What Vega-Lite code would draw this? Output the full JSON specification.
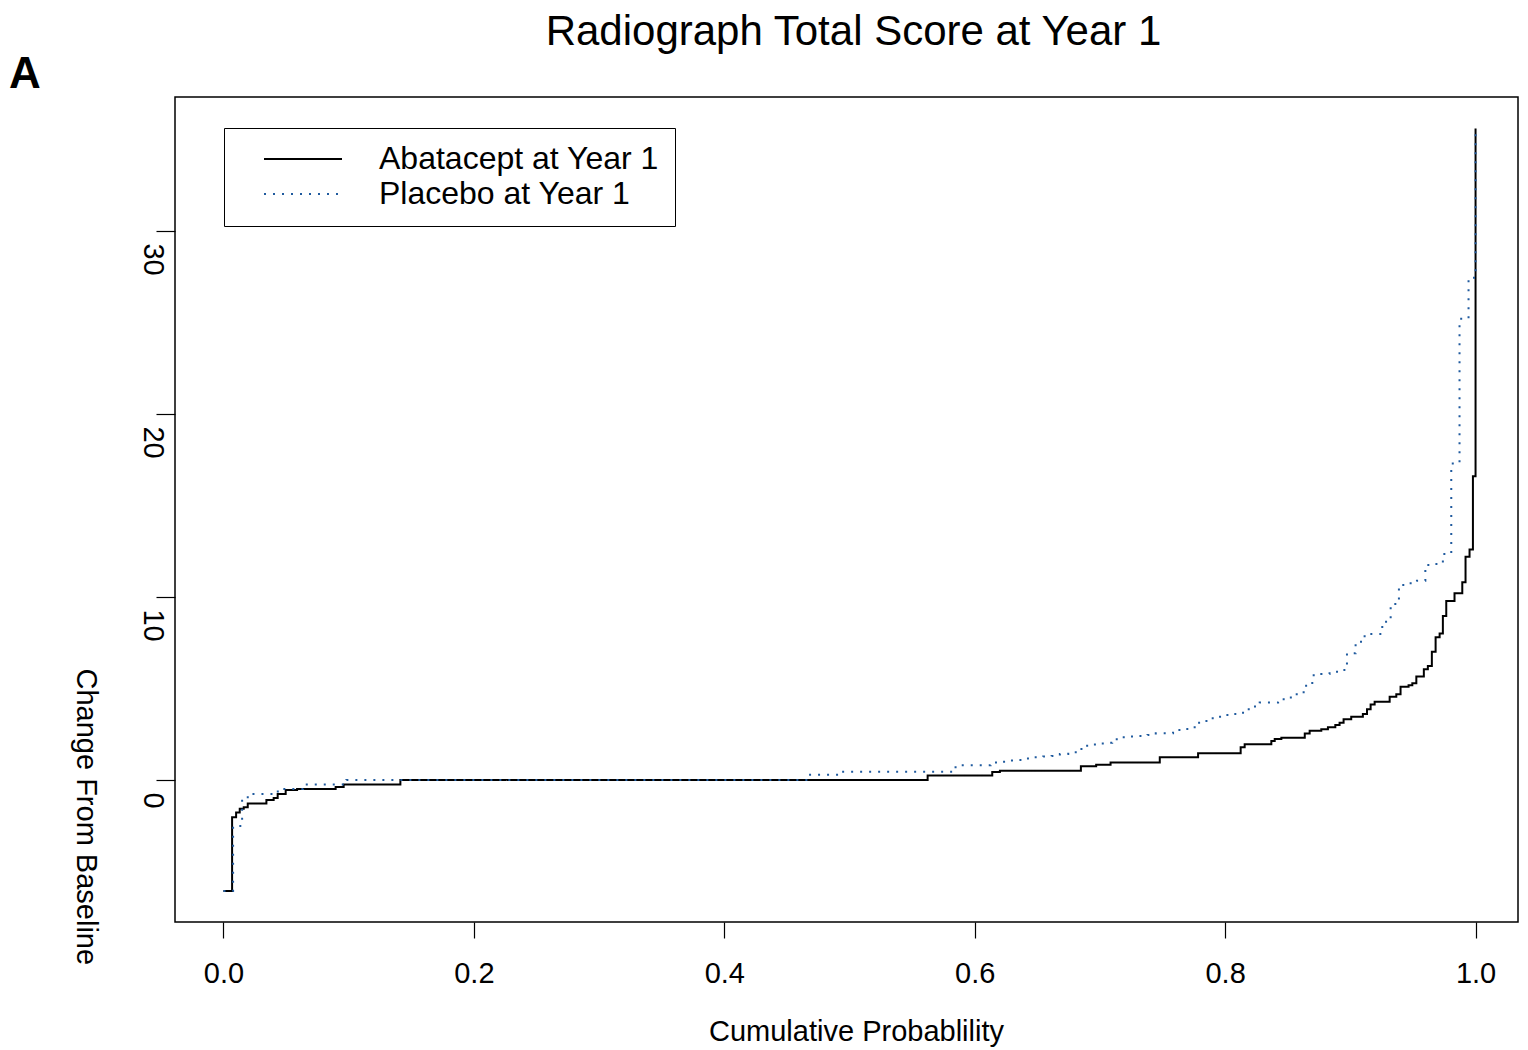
{
  "$schema": "https://vega.github.io/schema/vega-lite/v6.json",
  "width": 1343,
  "height": 825,
  "autosize": {"type": "none"},
  "padding": {"left": 175, "top": 97, "right": 10, "bottom": 128},
  "background": "white",
  "title": {"text": "Radiograph Total Score at Year 1", "fontSize": 42, "font": "Liberation Sans", "fontWeight": "normal", "anchor": "middle", "frame": "group", "baseline": "alphabetic", "offset": -34, "dx": 7, "color": "black"},
  "config": {
    "view": {"stroke": "black", "strokeWidth": 1.5},
    "axis": {"grid": false, "domain": false, "tickColor": "black", "tickWidth": 1.2, "labelColor": "black", "titleColor": "black", "labelFont": "Liberation Sans", "titleFont": "Liberation Sans", "labelFontSize": 29, "titleFontSize": 29, "titleFontWeight": "normal", "labelOverlap": false, "labelBound": false, "labelFlush": false}
  },
  "layer": [
    {
      "data": {"values": [
        {"group": "Abatacept at Year 1", "p": 0.0, "change": -6.07},
        {"group": "Abatacept at Year 1", "p": 0.0069, "change": -2.04},
        {"group": "Abatacept at Year 1", "p": 0.0101, "change": -1.78},
        {"group": "Abatacept at Year 1", "p": 0.013, "change": -1.57},
        {"group": "Abatacept at Year 1", "p": 0.0162, "change": -1.49},
        {"group": "Abatacept at Year 1", "p": 0.0194, "change": -1.28},
        {"group": "Abatacept at Year 1", "p": 0.0343, "change": -1.09},
        {"group": "Abatacept at Year 1", "p": 0.0401, "change": -0.98},
        {"group": "Abatacept at Year 1", "p": 0.0433, "change": -0.77},
        {"group": "Abatacept at Year 1", "p": 0.0497, "change": -0.55},
        {"group": "Abatacept at Year 1", "p": 0.0588, "change": -0.49},
        {"group": "Abatacept at Year 1", "p": 0.0896, "change": -0.38},
        {"group": "Abatacept at Year 1", "p": 0.096, "change": -0.24},
        {"group": "Abatacept at Year 1", "p": 0.1413, "change": 0},
        {"group": "Abatacept at Year 1", "p": 0.5624, "change": 0.24},
        {"group": "Abatacept at Year 1", "p": 0.614, "change": 0.44},
        {"group": "Abatacept at Year 1", "p": 0.6201, "change": 0.51},
        {"group": "Abatacept at Year 1", "p": 0.6848, "change": 0.75},
        {"group": "Abatacept at Year 1", "p": 0.697, "change": 0.83},
        {"group": "Abatacept at Year 1", "p": 0.7085, "change": 0.95},
        {"group": "Abatacept at Year 1", "p": 0.7478, "change": 1.24},
        {"group": "Abatacept at Year 1", "p": 0.7784, "change": 1.46},
        {"group": "Abatacept at Year 1", "p": 0.8124, "change": 1.79},
        {"group": "Abatacept at Year 1", "p": 0.8156, "change": 1.95},
        {"group": "Abatacept at Year 1", "p": 0.8369, "change": 2.13},
        {"group": "Abatacept at Year 1", "p": 0.8396, "change": 2.24},
        {"group": "Abatacept at Year 1", "p": 0.8449, "change": 2.31},
        {"group": "Abatacept at Year 1", "p": 0.8636, "change": 2.54},
        {"group": "Abatacept at Year 1", "p": 0.8675, "change": 2.69},
        {"group": "Abatacept at Year 1", "p": 0.8768, "change": 2.77},
        {"group": "Abatacept at Year 1", "p": 0.8821, "change": 2.88},
        {"group": "Abatacept at Year 1", "p": 0.888, "change": 3.0},
        {"group": "Abatacept at Year 1", "p": 0.8914, "change": 3.13},
        {"group": "Abatacept at Year 1", "p": 0.8946, "change": 3.32},
        {"group": "Abatacept at Year 1", "p": 0.9007, "change": 3.46},
        {"group": "Abatacept at Year 1", "p": 0.91, "change": 3.61},
        {"group": "Abatacept at Year 1", "p": 0.9133, "change": 3.86},
        {"group": "Abatacept at Year 1", "p": 0.9162, "change": 4.12},
        {"group": "Abatacept at Year 1", "p": 0.9194, "change": 4.28},
        {"group": "Abatacept at Year 1", "p": 0.9314, "change": 4.55},
        {"group": "Abatacept at Year 1", "p": 0.9367, "change": 4.68},
        {"group": "Abatacept at Year 1", "p": 0.9401, "change": 5.1},
        {"group": "Abatacept at Year 1", "p": 0.9465, "change": 5.17},
        {"group": "Abatacept at Year 1", "p": 0.9495, "change": 5.28},
        {"group": "Abatacept at Year 1", "p": 0.9527, "change": 5.65},
        {"group": "Abatacept at Year 1", "p": 0.9587, "change": 6.05},
        {"group": "Abatacept at Year 1", "p": 0.9619, "change": 6.23},
        {"group": "Abatacept at Year 1", "p": 0.9651, "change": 7.01},
        {"group": "Abatacept at Year 1", "p": 0.9681, "change": 7.8},
        {"group": "Abatacept at Year 1", "p": 0.9713, "change": 8.01},
        {"group": "Abatacept at Year 1", "p": 0.9739, "change": 8.96},
        {"group": "Abatacept at Year 1", "p": 0.9766, "change": 9.78},
        {"group": "Abatacept at Year 1", "p": 0.9832, "change": 10.2},
        {"group": "Abatacept at Year 1", "p": 0.9894, "change": 10.8},
        {"group": "Abatacept at Year 1", "p": 0.992, "change": 12.2},
        {"group": "Abatacept at Year 1", "p": 0.9952, "change": 12.6},
        {"group": "Abatacept at Year 1", "p": 0.9979, "change": 16.6},
        {"group": "Abatacept at Year 1", "p": 1.0, "change": 35.6},
        {"group": "Placebo at Year 1", "p": 0.0, "change": -6.07},
        {"group": "Placebo at Year 1", "p": 0.0077, "change": -2.51},
        {"group": "Placebo at Year 1", "p": 0.0149, "change": -0.95},
        {"group": "Placebo at Year 1", "p": 0.0221, "change": -0.77},
        {"group": "Placebo at Year 1", "p": 0.0434, "change": -0.49},
        {"group": "Placebo at Year 1", "p": 0.0636, "change": -0.24},
        {"group": "Placebo at Year 1", "p": 0.0982, "change": 0},
        {"group": "Placebo at Year 1", "p": 0.4671, "change": 0.29},
        {"group": "Placebo at Year 1", "p": 0.4938, "change": 0.45},
        {"group": "Placebo at Year 1", "p": 0.5847, "change": 0.8},
        {"group": "Placebo at Year 1", "p": 0.6127, "change": 0.95},
        {"group": "Placebo at Year 1", "p": 0.6201, "change": 1.0},
        {"group": "Placebo at Year 1", "p": 0.6268, "change": 1.06},
        {"group": "Placebo at Year 1", "p": 0.6339, "change": 1.09},
        {"group": "Placebo at Year 1", "p": 0.6406, "change": 1.17},
        {"group": "Placebo at Year 1", "p": 0.6475, "change": 1.24},
        {"group": "Placebo at Year 1", "p": 0.6547, "change": 1.28},
        {"group": "Placebo at Year 1", "p": 0.6614, "change": 1.31},
        {"group": "Placebo at Year 1", "p": 0.668, "change": 1.42},
        {"group": "Placebo at Year 1", "p": 0.6747, "change": 1.51},
        {"group": "Placebo at Year 1", "p": 0.6821, "change": 1.69},
        {"group": "Placebo at Year 1", "p": 0.6887, "change": 1.87},
        {"group": "Placebo at Year 1", "p": 0.696, "change": 2.0},
        {"group": "Placebo at Year 1", "p": 0.7031, "change": 2.03},
        {"group": "Placebo at Year 1", "p": 0.7098, "change": 2.22},
        {"group": "Placebo at Year 1", "p": 0.7172, "change": 2.33},
        {"group": "Placebo at Year 1", "p": 0.7239, "change": 2.37},
        {"group": "Placebo at Year 1", "p": 0.7313, "change": 2.4},
        {"group": "Placebo at Year 1", "p": 0.738, "change": 2.46},
        {"group": "Placebo at Year 1", "p": 0.7446, "change": 2.55},
        {"group": "Placebo at Year 1", "p": 0.7584, "change": 2.73},
        {"group": "Placebo at Year 1", "p": 0.7656, "change": 2.79},
        {"group": "Placebo at Year 1", "p": 0.7726, "change": 2.88},
        {"group": "Placebo at Year 1", "p": 0.7792, "change": 3.22},
        {"group": "Placebo at Year 1", "p": 0.7859, "change": 3.37},
        {"group": "Placebo at Year 1", "p": 0.7931, "change": 3.46},
        {"group": "Placebo at Year 1", "p": 0.8005, "change": 3.55},
        {"group": "Placebo at Year 1", "p": 0.8071, "change": 3.61},
        {"group": "Placebo at Year 1", "p": 0.8143, "change": 3.86},
        {"group": "Placebo at Year 1", "p": 0.821, "change": 4.01},
        {"group": "Placebo at Year 1", "p": 0.8276, "change": 4.23},
        {"group": "Placebo at Year 1", "p": 0.8423, "change": 4.41},
        {"group": "Placebo at Year 1", "p": 0.8489, "change": 4.51},
        {"group": "Placebo at Year 1", "p": 0.8555, "change": 4.68},
        {"group": "Placebo at Year 1", "p": 0.8627, "change": 5.15},
        {"group": "Placebo at Year 1", "p": 0.8696, "change": 5.72},
        {"group": "Placebo at Year 1", "p": 0.8768, "change": 5.79},
        {"group": "Placebo at Year 1", "p": 0.8834, "change": 5.92},
        {"group": "Placebo at Year 1", "p": 0.8909, "change": 6.01},
        {"group": "Placebo at Year 1", "p": 0.8973, "change": 6.92},
        {"group": "Placebo at Year 1", "p": 0.9042, "change": 7.56},
        {"group": "Placebo at Year 1", "p": 0.9114, "change": 7.98},
        {"group": "Placebo at Year 1", "p": 0.9255, "change": 8.65},
        {"group": "Placebo at Year 1", "p": 0.9322, "change": 9.62},
        {"group": "Placebo at Year 1", "p": 0.9388, "change": 10.66},
        {"group": "Placebo at Year 1", "p": 0.946, "change": 10.75},
        {"group": "Placebo at Year 1", "p": 0.9532, "change": 10.89},
        {"group": "Placebo at Year 1", "p": 0.9599, "change": 11.75},
        {"group": "Placebo at Year 1", "p": 0.9667, "change": 11.8},
        {"group": "Placebo at Year 1", "p": 0.9739, "change": 12.35},
        {"group": "Placebo at Year 1", "p": 0.9806, "change": 17.3},
        {"group": "Placebo at Year 1", "p": 0.9872, "change": 25.2},
        {"group": "Placebo at Year 1", "p": 0.9944, "change": 27.45},
        {"group": "Placebo at Year 1", "p": 1.0, "change": 35.6}
      ]},
      "mark": {"type": "line", "interpolate": "step-after", "strokeWidth": 2},
      "encoding": {
        "x": {"field": "p", "type": "quantitative", "scale": {"domain": [-0.0387, 1.0339], "nice": false, "zero": false},
              "axis": {"values": [0, 0.2, 0.4, 0.6, 0.8, 1.0], "format": ".1f", "tickSize": 16, "labelPadding": 44, "labelBaseline": "alphabetic", "title": "Cumulative Probablility", "titleX": 681, "titleY": 118, "titleAlign": "center", "titleBaseline": "alphabetic", "titleAnchor": "middle"}},
        "y": {"field": "change", "type": "quantitative", "scale": {"domain": [-7.76, 37.32], "nice": false, "zero": false},
              "axis": {"values": [0, 10, 20, 30], "format": "d", "tickSize": 19, "labelAngle": 90, "labelAlign": "left", "labelBaseline": "middle", "labelPadding": 4, "labelOffset": 12,
                       "title": "Change From Baseline", "titleAngle": 90, "titleX": -90, "titleY": 571, "titleAlign": "left", "titleBaseline": "middle"}},
        "color": {"field": "group", "type": "nominal", "scale": {"domain": ["Abatacept at Year 1", "Placebo at Year 1"], "range": ["#000000", "#1f5a9e"]},
                  "legend": {"orient": "none", "legendX": 49, "legendY": 31, "title": null, "strokeColor": "black", "fillColor": "white", "padding": 16, "symbolType": "stroke", "symbolSize": 6084, "symbolStrokeWidth": 2, "symbolOffset": 23, "labelOffset": 36, "labelFontSize": 32, "labelFont": "Liberation Sans", "labelColor": "black", "clipHeight": 30, "rowPadding": 3, "labelLimit": 0}},
        "strokeDash": {"field": "group", "type": "nominal", "scale": {"domain": ["Abatacept at Year 1", "Placebo at Year 1"], "range": [[1, 0], [2, 7]]},
                  "legend": {"orient": "none", "legendX": 49, "legendY": 31, "title": null, "strokeColor": "black", "fillColor": "white", "padding": 16, "symbolType": "stroke", "symbolSize": 6084, "symbolStrokeWidth": 2, "symbolOffset": 23, "labelOffset": 36, "labelFontSize": 32, "labelFont": "Liberation Sans", "labelColor": "black", "clipHeight": 30, "rowPadding": 3, "labelLimit": 0}}
      }
    },
    {
      "data": {"values": [{"label": "A"}]},
      "mark": {"type": "text", "fontSize": 44, "fontWeight": "bold", "font": "Liberation Sans", "align": "center", "baseline": "middle", "color": "black"},
      "encoding": {
        "x": {"datum": -0.1585, "type": "quantitative"},
        "y": {"datum": 38.52, "type": "quantitative"},
        "text": {"field": "label"}
      }
    }
  ]
}
